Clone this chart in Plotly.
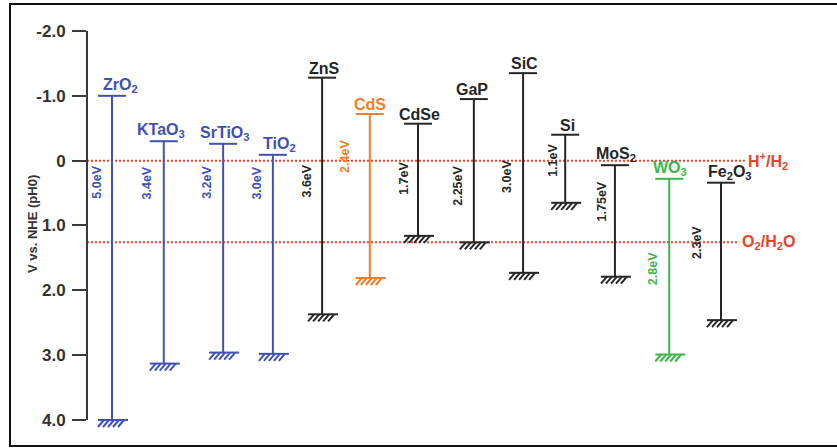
import plotly.graph_objects as go

# ---------------- data ----------------
materials = ["ZrO<sub>2</sub>", "KTaO<sub>3</sub>", "SrTiO<sub>3</sub>", "TiO<sub>2</sub>", "ZnS", "CdS",
             "CdSe", "GaP", "SiC", "Si", "MoS<sub>2</sub>", "WO<sub>3</sub>", "Fe<sub>2</sub>O<sub>3</sub>"]
conduction_band = [-1.0, -0.30, -0.26, -0.09, -1.28, -0.72, -0.57, -0.95, -1.35, -0.40, 0.07, 0.28, 0.34]
valence_band = [4.0, 3.13, 2.96, 2.98, 2.37, 1.81, 1.16, 1.26, 1.73, 0.65, 1.79, 2.99, 2.46]
gap_labels = ["5.0eV", "3.4eV", "3.2eV", "3.0eV", "3.6eV", "2.4eV", "1.7eV", "2.25eV",
              "3.0eV", "1.1eV", "1.75eV", "2.8eV", "2.3eV"]
redox_names = ["H<sup>+</sup>/H<sub>2</sub>", "O<sub>2</sub>/H<sub>2</sub>O"]
redox_values = [0.0, 1.26]
y_tick_values = [-2, -1, 0, 1, 2, 3, 4]
y_tick_labels = ["-2.0", "-1.0", "0", "1.0", "2.0", "3.0", "4.0"]
y_title = "V vs. NHE (pH0)"

# ---------------- layout / style ----------------
W, H = 837, 448
ML, MR, MT, MB = 87, 7, 20, 8
PXX = 50.75          # px per x unit
PXY = 64.83          # px per volt
x_pos = [0, 1.02, 2.19, 3.17, 4.14, 5.08, 6.03, 7.13, 8.10, 8.93, 9.91, 10.98, 12.0]
label_dx = [8, -3, 2, 7, 2, 0, 1, -2, 1, 2, 1, 1, 9]
gap_label_y = [0.34, 0.34, 0.34, 0.34, 0.32, -0.07, 0.28, 0.39, 0.25, 0.0, 0.63, 1.67, 1.27]
gap_label_dx = [-15, -17, -16, -16, -15, -25, -14, -16, -16, -13, -13, -16, -24]
redox_end_x = [12.47, 12.36]

BLUE, BLACK, ORANGE, GREEN, RED = "#4051b5", "#262626", "#f07d2a", "#3db54b", "#e8432e"
colors = [BLUE, BLUE, BLUE, BLUE, BLACK, ORANGE, BLACK, BLACK, BLACK, BLACK, BLACK, GREEN, BLACK]
FONT = "Liberation Sans, Arial, sans-serif"

plot_w = W - ML - MR
plot_h = H - MT - MB
x_left = -25 / PXX
x_range = [x_left, x_left + plot_w / PXX]
y_top_v = -2.0 - (31 - MT) / PXY
y_range = [y_top_v + plot_h / PXY, y_top_v]

fig = go.Figure()

# redox dotted lines
for name, val, xe in zip(redox_names, redox_values, redox_end_x):
    fig.add_trace(go.Scatter(x=[x_range[0], xe], y=[val, val], mode="lines",
                             line=dict(color=RED, width=2, dash="2px,2px"),
                             hoverinfo="skip", showlegend=False))
    fig.add_annotation(x=xe, y=val, text=name, showarrow=False, xanchor="left", yanchor="middle",
                       xshift=1, font=dict(family=FONT, size=16, color=RED, weight="bold"))

# band diagrams
hw = 14 / PXX
for i, name in enumerate(materials):
    x0 = x_pos[i]
    cb = conduction_band[i]
    vb = valence_band[i]
    c = colors[i]
    xs = [x0 - hw, x0 + hw, None, x0, x0, None, x0 - 14 / PXX, x0 + 16 / PXX]
    ys = [cb, cb, None, cb, vb, None, vb, vb]
    dy = 7 / PXY
    for off in (-8, -3, 2, 7, 12):
        xs += [None, x0 + off / PXX, x0 + (off - 6) / PXX]
        ys += [None, vb, vb + dy]
    fig.add_trace(go.Scatter(x=xs, y=ys, mode="lines", line=dict(color=c, width=2),
                             hoverinfo="skip", showlegend=False, cliponaxis=False))
    fig.add_annotation(x=x0, y=cb, text=name, showarrow=False, xanchor="center", yanchor="bottom",
                       xshift=label_dx[i], yshift=-1,
                       font=dict(family=FONT, size=16, color=c, weight="bold"))
    fig.add_annotation(x=x0, y=gap_label_y[i], text=gap_labels[i], showarrow=False, textangle=-90,
                       xanchor="center", yanchor="middle", xshift=gap_label_dx[i],
                       font=dict(family=FONT, size=12.5, color=c, weight="bold"))

# y axis line
fig.add_shape(type="line", xref="paper", yref="y", x0=0, x1=0, y0=-2, y1=4,
              line=dict(color="#3a3a3a", width=2))
# outer frame
fig.add_shape(type="rect", xref="paper", yref="paper",
              x0=(10 - ML) / plot_w, x1=(845 - ML) / plot_w,
              y0=(H - MB - 446) / plot_h, y1=(H - MB - 4) / plot_h,
              line=dict(color="#111111", width=2))
# y title
fig.add_annotation(xref="paper", yref="paper", x=(32 - ML) / plot_w, y=(H - MB - 224) / plot_h,
                   text=y_title, textangle=-90, showarrow=False, xanchor="center", yanchor="middle",
                   font=dict(family=FONT, size=13, color="#333333", weight="bold"))

fig.update_layout(
    width=W, height=H, margin=dict(l=ML, r=MR, t=MT, b=MB),
    paper_bgcolor="white", plot_bgcolor="white", showlegend=False,
    xaxis=dict(range=x_range, visible=False, fixedrange=True),
    yaxis=dict(range=y_range, tickvals=y_tick_values, ticktext=y_tick_labels,
               ticks="outside", ticklen=14, tickwidth=2, tickcolor="#3a3a3a",
               showgrid=False, zeroline=False, showline=False, ticklabelstandoff=3,
               fixedrange=True,
               tickfont=dict(family=FONT, size=17, color="#333333", weight="bold")),
)

fig.write_html("out.html", config={"displayModeBar": False},
               post_script="document.body.style.margin='0';")
